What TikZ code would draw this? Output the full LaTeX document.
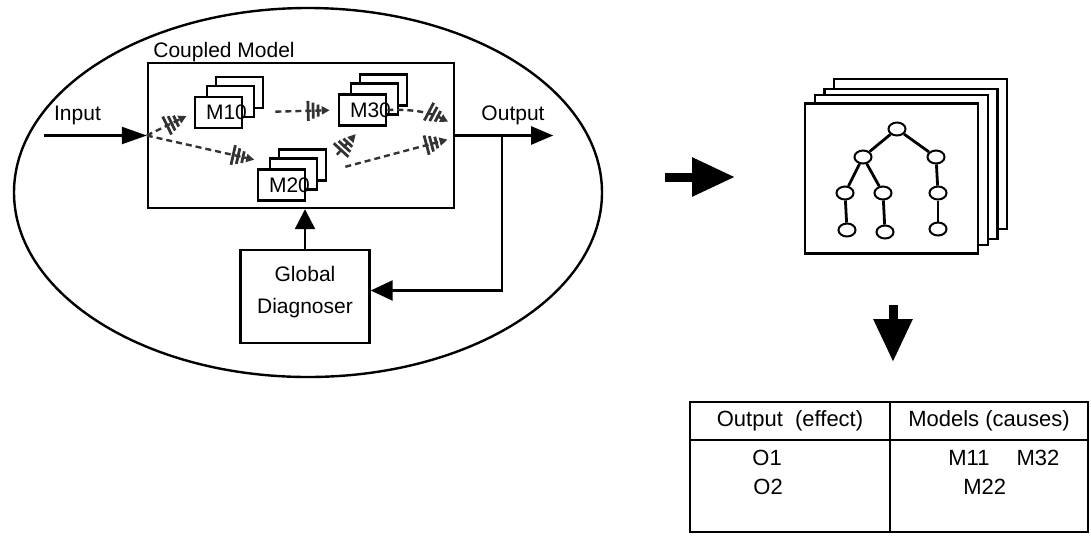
\documentclass[tikz,border=0pt]{standalone}
\usepackage{fontspec}
\setmainfont{Liberation Sans}
\usetikzlibrary{arrows.meta,positioning,shapes.geometric}

\tikzset{
	mbox/.style={draw,line width=1.3pt,fill=white,minimum width=23.5pt,minimum height=15.5pt,inner sep=0pt},
	mtxt/.style={inner sep=0pt,anchor=east,font=\fontsize{10.5}{12}\selectfont},
	lbl/.style={inner sep=0pt,font=\fontsize{10.5}{12}\selectfont},
	panel/.style={draw,line width=1.2pt,fill=white,minimum width=86.5pt,minimum height=75pt,inner sep=0pt},
	tn/.style={draw,ellipse,line width=1pt,fill=white,minimum width=8.5pt,minimum height=6.5pt,inner sep=0pt},
	tline/.style={line width=1.4pt},
	cell/.style={draw,line width=1.1pt,inner sep=0pt,outer sep=0pt,font=\fontsize{11}{13}\selectfont},
	ctxt/.style={inner sep=0pt,anchor=west,font=\fontsize{11}{13}\selectfont},
	sig/.style={line width=1.2pt,-{Triangle[length=11pt,width=9pt]}},
	flow/.style={densely dashed,line width=1.2pt,black!80,
		-{Bar[width=10pt,line width=1.4pt,sep=1.1pt]Bar[width=8pt,line width=1.4pt,sep=1.1pt]Bar[width=6pt,line width=1.4pt,sep=1.1pt]Triangle[length=4pt,width=4pt]}},
	bigarr/.style={line width=4.5pt,-{Triangle[length=21.5pt,width=18.5pt]}}
}

\begin{document}
\begin{tikzpicture}[x=0.5pt,y=-0.5pt]
	\useasboundingbox (0,0) rectangle (1091,536);

	% system
	\node[draw,ellipse,line width=1.2pt,minimum width=294pt,minimum height=184.5pt,inner sep=0pt] (sys) at (308,192.5) {};
	\node[draw,line width=1.2pt,minimum width=153pt,minimum height=72.5pt,inner sep=0pt] (cm) at (301,135.5) {};
	\node[lbl,anchor=base west] (cmlbl) at (153,57) {Coupled Model};

	% model stacks
	\node[mbox] (m1c) at (239.5,92.5) {};
	\node[mbox] (m1b) [on grid,below left=4.5pt and 4.5pt of m1c] {};
	\node[mbox] (m1a) [on grid,below left=5.5pt and 6pt of m1b] {};
	\node[mtxt] (m1t) at ([xshift=2pt]m1a.east) {M10};

	\node[mbox] (m3c) at (383.5,90) {};
	\node[mbox] (m3b) [on grid,below left=4.5pt and 4.5pt of m3c] {};
	\node[mbox] (m3a) [on grid,below left=5.5pt and 6pt of m3b] {};
	\node[mtxt] (m3t) at ([xshift=2pt]m3a.east) {M30};

	\node[mbox] (m2c) at (302.5,165) {};
	\node[mbox] (m2b) [on grid,below left=4.5pt and 4.5pt of m2c] {};
	\node[mbox] (m2a) [on grid,below left=5.5pt and 6pt of m2b] {};
	\node[mtxt] (m2t) at ([xshift=2pt]m2a.east) {M20};

	\draw[flow,shorten >=4pt] (cm.west) -- (m1a.west);
	\draw[flow,shorten >=12pt] (cm.west) -- (m2c.west);
	\draw[flow,shorten <=16pt,shorten >=4pt] (m1a.east) -- (m3a.west);
	\draw[flow,shorten <=7pt,shorten >=5pt] (m2c.east) -- (m3a.south);
	\draw[flow,shorten >=4pt] (m3a.east) to[bend left=15] ([yshift=5pt]cm.east);
	\draw[flow,shorten <=14pt,shorten >=4pt] (m2b.east) -- ([yshift=-1pt]cm.east);

	% input / output
	\coordinate[left=51.5pt of cm.west] (inp);
	\coordinate[right=49pt of cm.east] (outp);
	\coordinate (split) at (502,135.5);
	\draw[sig,-{Triangle[length=12.5pt,width=8.5pt]}] (inp) -- (cm.west);
	\draw[sig] (cm.east) -- (outp);
	\node[lbl] (inlbl) at (77.5,115) {Input};
	\node[lbl] (outlbl) at (513,115) {Output};

	% diagnoser
	\node[draw,line width=1.2pt,minimum width=64.5pt,minimum height=46.5pt,align=center,
		font=\fontsize{10.5}{16}\selectfont] (gd) at (305,296.5) {Global\\Diagnoser\rule[-7pt]{0pt}{7pt}};
	\draw[sig,-{Triangle[length=11pt,width=10pt]}] (split) |- ([yshift=3pt]gd.east);
	\draw[sig,-{Triangle[length=10pt,width=10pt]}] (gd.north) -- (gd.north |- cm.south);

	% big arrows
	\coordinate (ra1) at (665,177);
	\coordinate (ra2) at (735,177);
	\coordinate (da1) at (893,305);
	\coordinate (da2) at (893,362);
	\draw[bigarr] (ra1) -- (ra2);
	\draw[bigarr] (da1) -- (da2);

	% tree pages
	\node[panel] (p4) at (920.5,154) {};
	\node[panel] (p3) [on grid,below left=5pt and 4.75pt of p4] {};
	\node[panel] (p2) [on grid,below left=3pt and 4.75pt of p3] {};
	\node[panel] (tree) [on grid,below left=4.25pt and 5pt of p2] {};

	\begin{scope}[on grid]
	\node[tn] (r) at (897,129) {};
	\node[tn] (a) [below left=14pt and 17pt of r] {};
	\node[tn] (b) [below right=14pt and 19.5pt of r] {};
	\node[tn] (a1) [below left=18pt and 9pt of a] {};
	\node[tn] (a2) [below right=18pt and 10pt of a] {};
	\node[tn] (b1) [below right=18pt and 1pt of b] {};
	\node[tn] (a11) [below right=18.5pt and 1pt of a1] {};
	\node[tn] (a21) [below right=19.5pt and 1pt of a2] {};
	\node[tn] (b11) [below=18pt of b1] {};
	\end{scope}

	\path[tline]
	(r) edge (a) edge (b)
	(a) edge (a1) edge (a2)
	(b) edge (b1)
	(a1) edge (a11)
	(a2) edge (a21)
	(b1) edge (b11);

	% table
	\node[cell,minimum width=100pt,minimum height=19pt] (th1) at (790,421) {Output\ \ (effect)};
	\node[cell,minimum width=99pt,minimum height=19pt,right=0pt of th1] (th2) {Models (causes)};
	\node[cell,minimum width=100pt,minimum height=46pt,below=0pt of th1] (tb1) {};
	\node[cell,minimum width=99pt,minimum height=46pt,below=0pt of th2] (tb2) {};
	\node[ctxt] (o1) at (752,458) {O1};
	\node[ctxt] (o2) at (753,487) {O2};
	\node[ctxt] (c1) at (948,458) {M11\hspace{13.5pt}M32};
	\node[ctxt] (c2) at (963,487) {M22};
\end{tikzpicture}
\end{document}
